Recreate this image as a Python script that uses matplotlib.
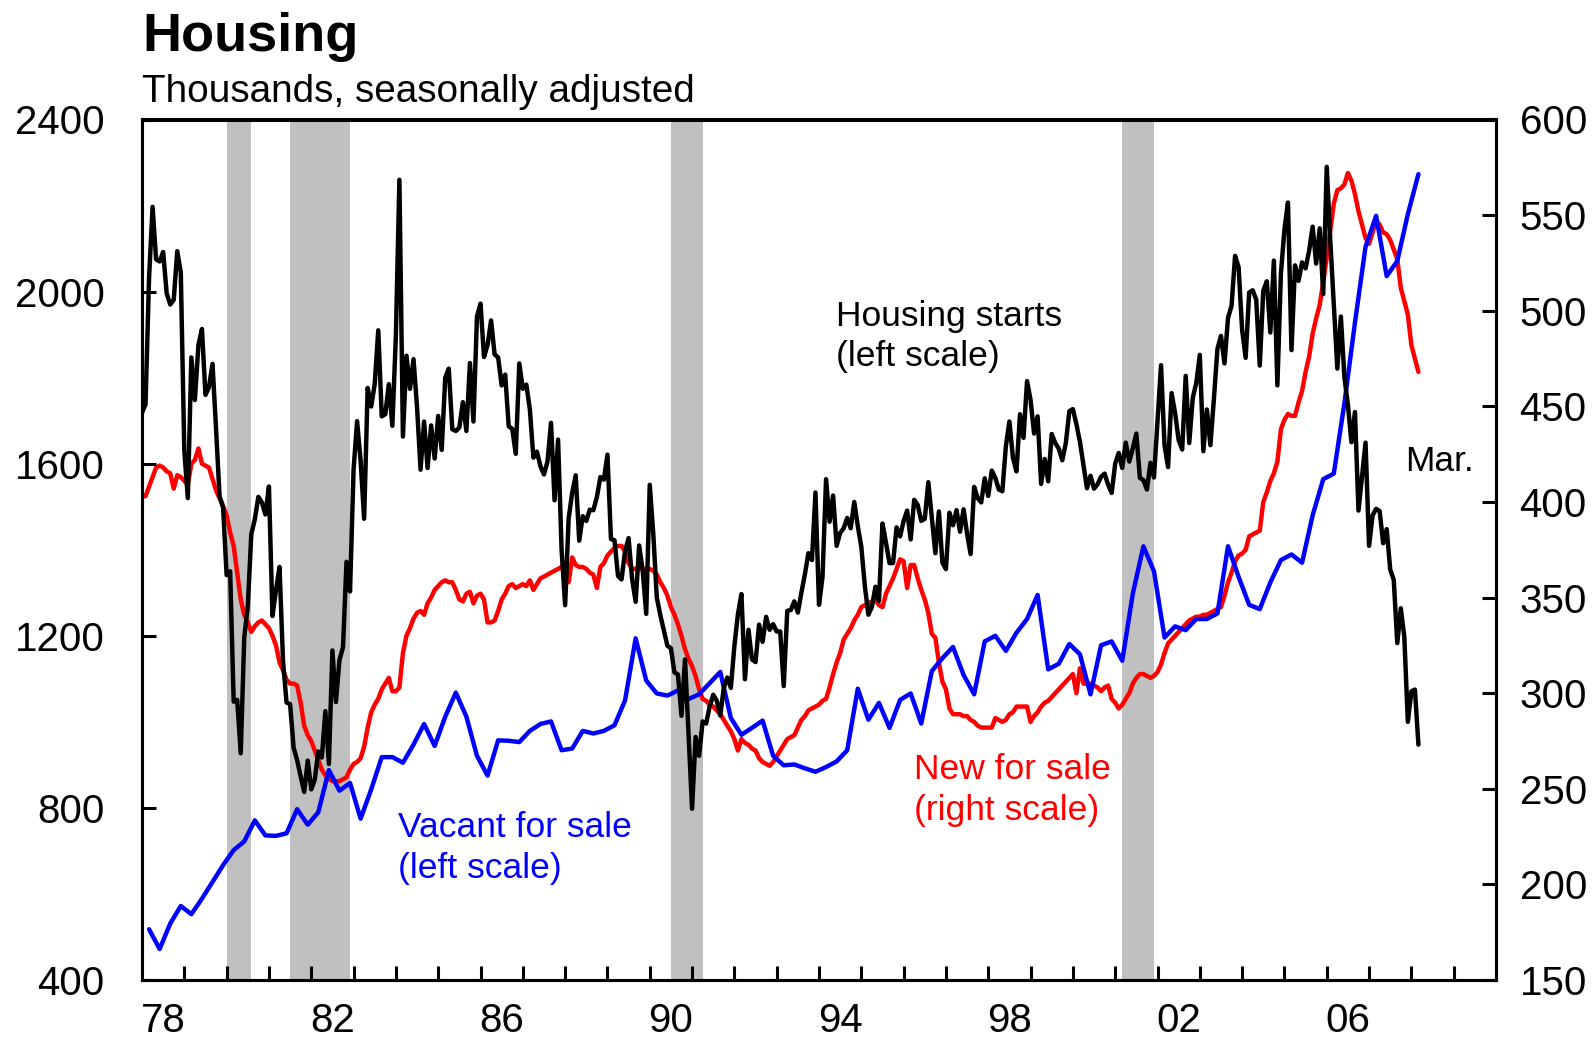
import numpy as np
import matplotlib
matplotlib.use("Agg")
import matplotlib.pyplot as plt
from matplotlib.ticker import FixedLocator, NullFormatter, FixedFormatter

plt.rcParams['font.family'] = ['Liberation Sans', 'DejaVu Sans']

# Housing starts, thousands SAAR, monthly from Jan 1978 to Mar 2008 (left scale)
starts = [
    1718, 1738, 2032, 2197, 2075, 2070, 2092, 1996, 1970, 1981, 2094, 2044,
    1630, 1520, 1847, 1748, 1876, 1913, 1760, 1778, 1832, 1681, 1524, 1498,
    1341, 1350, 1047, 1051, 927, 1196, 1269, 1436, 1471, 1523, 1510, 1482,
    1547, 1246, 1306, 1360, 1140, 1045, 1041, 940, 911, 873, 837, 910,
    843, 866, 931, 917, 1025, 902, 1166, 1046, 1144, 1173, 1372, 1303,
    1586, 1699, 1606, 1472, 1776, 1733, 1785, 1910, 1710, 1715, 1785, 1688,
    1897, 2260, 1663, 1851, 1774, 1843, 1732, 1586, 1698, 1590, 1689, 1612,
    1711, 1632, 1800, 1821, 1680, 1676, 1684, 1743, 1676, 1834, 1698, 1942,
    1972, 1848, 1876, 1933, 1854, 1847, 1782, 1807, 1687, 1681, 1623, 1833,
    1774, 1784, 1726, 1614, 1628, 1594, 1575, 1605, 1695, 1515, 1656, 1400,
    1271, 1473, 1532, 1573, 1421, 1478, 1467, 1493, 1492, 1522, 1569, 1563,
    1621, 1425, 1422, 1339, 1331, 1397, 1427, 1332, 1279, 1410, 1351, 1251,
    1551, 1437, 1289, 1248, 1212, 1177, 1171, 1115, 1110, 1014, 1145, 969,
    798, 965, 921, 1001, 996, 1036, 1063, 1049, 1015, 1079, 1103, 1079,
    1176, 1250, 1297, 1099, 1214, 1145, 1139, 1226, 1186, 1244, 1214, 1227,
    1210, 1210, 1083, 1258, 1260, 1280, 1254, 1300, 1343, 1392, 1376, 1533,
    1272, 1337, 1564, 1465, 1526, 1409, 1439, 1450, 1474, 1450, 1511, 1455,
    1407, 1316, 1249, 1267, 1314, 1281, 1461, 1416, 1369, 1369, 1452, 1431,
    1467, 1491, 1424, 1516, 1504, 1467, 1472, 1557, 1475, 1392, 1489, 1370,
    1355, 1486, 1457, 1492, 1442, 1494, 1437, 1390, 1546, 1520, 1510, 1566,
    1525, 1584, 1567, 1540, 1536, 1641, 1698, 1614, 1582, 1715, 1660, 1792,
    1748, 1670, 1710, 1553, 1611, 1559, 1669, 1648, 1635, 1608, 1648, 1722,
    1727, 1692, 1651, 1597, 1543, 1572, 1542, 1552, 1570, 1577, 1551, 1532,
    1600, 1625, 1590, 1649, 1605, 1636, 1670, 1567, 1562, 1540, 1602, 1568,
    1698, 1829, 1642, 1592, 1764, 1717, 1655, 1633, 1804, 1648, 1753, 1788,
    1853, 1629, 1726, 1643, 1751, 1867, 1897, 1833, 1939, 1967, 2083, 2057,
    1911, 1846, 1998, 2003, 1981, 1828, 2002, 2024, 1905, 2072, 1782, 2042,
    2144, 2207, 1864, 2061, 2025, 2068, 2054, 2095, 2151, 2065, 2147, 1994,
    2290, 2119, 1969, 1821, 1942, 1802, 1737, 1650, 1720, 1491, 1570, 1649,
    1409, 1480, 1495, 1490, 1415, 1448, 1354, 1330, 1183, 1264, 1197, 1000,
    1071, 1075, 947,
]

# New homes for sale, thousands, monthly Jan 1978 - Mar 2008 (right scale)
new_for_sale = [
    403, 403, 408, 413, 418, 419, 418, 416, 415, 407, 414, 413,
    411, 409, 420, 422, 428, 420, 419, 418, 412, 406, 402, 398,
    393, 384, 377, 363, 349, 341, 337, 332, 335, 337, 338, 336,
    334, 330, 325, 316, 312, 307, 305, 305, 304, 295, 283, 278,
    275, 270, 265, 260, 257, 255, 254, 254, 254, 255, 256, 260,
    263, 264, 266, 272, 282, 290, 294, 297, 302, 305, 308, 301,
    301, 303, 321, 330, 334, 339, 342, 343, 341, 347, 350, 354,
    356, 358, 359, 358, 358, 354, 349, 348, 352, 353, 347, 351,
    352, 349, 337, 337, 338, 343, 349, 352, 356, 357, 355, 356,
    357, 356, 359, 354, 357, 360, 361, 362, 363, 364, 365, 366,
    368, 358, 371, 367, 366, 366, 365, 363, 362, 355, 366, 368,
    372, 374, 376, 377, 377, 374, 368, 365, 365, 365, 365, 365,
    365, 364, 362, 358, 355, 351, 345, 341, 336, 330, 323, 318,
    314, 309, 302, 297, 296, 294, 293, 291, 289, 286, 283, 280,
    276, 270, 276, 274, 273, 271, 270, 266, 264, 263, 262, 264,
    267, 270, 273, 276, 277, 278, 282, 286, 288, 291, 292, 293,
    294, 296, 297, 303, 310, 316, 321, 328, 331, 334, 338, 341,
    345, 346, 347, 348, 349, 346, 345, 352, 356, 360, 365, 370,
    369, 355, 367, 367, 360, 354, 349, 342, 331, 329, 316, 306,
    302, 292, 289, 289, 289, 288, 288, 286, 285, 283, 282, 282,
    282, 282, 287, 286, 285, 286, 289, 290, 293, 293, 293, 293,
    285, 288, 290, 293, 295, 296, 298, 300, 302, 304, 306, 308,
    310, 300, 313, 305, 305, 305, 304, 303, 301, 303, 304, 297,
    295, 292, 294, 297, 300, 305, 308, 310, 310, 309, 308, 309,
    311, 315, 321, 326, 328, 330, 332, 334, 336, 338, 339, 340,
    340, 341, 341, 342, 343, 344, 345, 351, 358, 363, 369, 372,
    373, 375, 382, 383, 384, 385, 400, 405, 411, 415, 421, 438,
    443, 446, 445, 445, 452, 458, 468, 476, 488, 496, 503, 515,
    528, 542, 556, 563, 564, 566, 572, 568, 561, 552, 545, 538,
    535, 541, 547, 545, 541, 540, 537, 532, 527, 512, 505, 498,
    482, 475, 468,
]

# Vacant homes for sale, thousands, quarterly 1978Q1 - 2008Q1 (left scale)
vacant_for_sale = [
    518, 472, 531, 572,
    553, 589, 628, 667,
    702, 722, 771, 736,
    735, 741, 797, 761,
    790, 888, 840, 858,
    775, 843, 918, 918,
    905, 947, 995, 944,
    1012, 1068, 1012, 921,
    875, 957, 956, 953,
    979, 995, 1001, 934,
    938, 979, 973, 979,
    992, 1050, 1194, 1096,
    1066, 1061, 1073, 1053,
    1064, 1090, 1116, 1009,
    970, 986, 1003, 921,
    899, 901, 892, 884,
    895, 908, 934, 1077,
    1005, 1044, 986, 1051,
    1066, 996, 1118, 1148,
    1174, 1109, 1064, 1187,
    1200, 1165, 1207, 1239,
    1295, 1122, 1135, 1181,
    1157, 1064, 1178, 1187,
    1142, 1298, 1408, 1350,
    1196, 1222, 1213, 1239,
    1239, 1252, 1408, 1337,
    1272, 1262, 1324, 1376,
    1389, 1370, 1480, 1564,
    1577, 1740, 1928, 2104,
    2176, 2036, 2071, 2180,
    2273,
]

recession_start = [1980.0, 1981.5, 1990.5, 2001.17]
recession_end = [1980.58, 1982.92, 1991.25, 2001.92]

year_label_pos = [1978.5, 1982.5, 1986.5, 1990.5, 1994.5, 1998.5, 2002.5, 2006.5]
year_labels = ['78', '82', '86', '90', '94', '98', '02', '06']
left_ticks = [400, 800, 1200, 1600, 2000, 2400]
right_ticks = [150, 200, 250, 300, 350, 400, 450, 500, 550, 600]

t_month = 1978 + np.arange(len(starts)) / 12.0
t_month_red = 1978 + np.arange(len(new_for_sale)) / 12.0
t_quarter = 1978 + (3 * np.arange(len(vacant_for_sale)) + 2) / 12.0

W, H = 1596, 1041
fig = plt.figure(figsize=(W / 100, H / 100), dpi=100)
L, R, T, B = 142, 1496, 119.5, 980
ax = fig.add_axes([L / W, 1 - B / H, (R - L) / W, (B - T) / H])
ax2 = ax.twinx()
ax.set_zorder(2)
ax2.set_zorder(1)
ax.patch.set_visible(False)

lw = 3.2
for s, e in zip(recession_start, recession_end):
    ax2.axvspan(s, e, color='#c0c0c0', lw=0, zorder=0)

ax2.plot(t_month_red, new_for_sale, color='#ff0000', lw=lw, zorder=2,
         solid_joinstyle='round', solid_capstyle='round')
ax.plot(t_quarter, vacant_for_sale, color='#0000ff', lw=lw, zorder=2,
        solid_joinstyle='round', solid_capstyle='round')
ax.plot(t_month, starts, color='black', lw=lw, zorder=3,
        solid_joinstyle='round', solid_capstyle='round')

ax.set_xlim(1978, 2010)
ax.set_ylim(400, 2400)
ax2.set_ylim(150, 600)

ax.set_yticks(left_ticks)
ax.set_yticklabels([str(v) for v in left_ticks])
ax2.set_yticks(right_ticks)
ax2.set_yticklabels([str(v) for v in right_ticks])

ax.xaxis.set_major_locator(FixedLocator(list(range(1979, 2010))))
ax.xaxis.set_major_formatter(NullFormatter())
ax.xaxis.set_minor_locator(FixedLocator(year_label_pos))
ax.xaxis.set_minor_formatter(FixedFormatter(year_labels))

fs = 29
ax.tick_params(axis='x', which='major', direction='in', length=10, width=2.2)
ax.tick_params(axis='x', which='minor', length=0, pad=16, labelsize=fs)
ax.tick_params(axis='y', direction='in', length=10, width=2.2, pad=27, labelsize=fs)
ax2.tick_params(axis='y', direction='in', length=10, width=2.2, pad=17, labelsize=fs)
for a in (ax, ax2):
    for sp in a.spines.values():
        sp.set_linewidth(2.2)

ax.text(1994.39, 1920, 'Housing starts', fontsize=25.5, color='black', va='baseline')
ax.text(1994.39, 1827, '(left scale)', fontsize=25.5, color='black', va='baseline')
ax.text(1984.04, 732, 'Vacant for sale', fontsize=25.5, color='#0000ff', va='baseline')
ax.text(1984.04, 638, '(left scale)', fontsize=25.5, color='#0000ff', va='baseline')
ax.text(1996.24, 867, 'New for sale', fontsize=25.5, color='#ff0000', va='baseline')
ax.text(1996.24, 773, '(right scale)', fontsize=25.5, color='#ff0000', va='baseline')
ax.text(2007.86, 1583, 'Mar.', fontsize=25.5, color='black', va='baseline')

fig.text(142 / W, 1 - 51 / H, 'Housing', fontsize=39, fontweight='bold', va='baseline')
fig.text(142 / W, 1 - 102 / H, 'Thousands, seasonally adjusted', fontsize=27.9, va='baseline')

fig.savefig('out.png', dpi=100)
